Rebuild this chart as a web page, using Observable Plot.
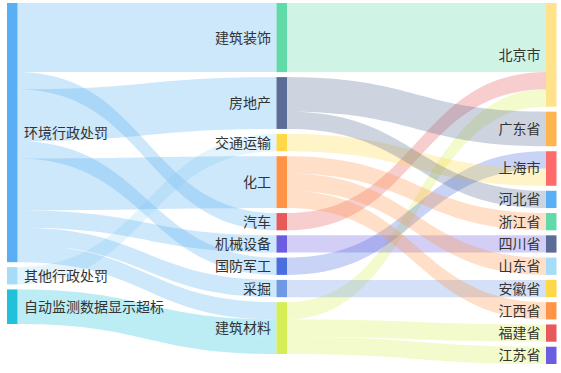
<!DOCTYPE html>
<html><head><meta charset="utf-8">
<script src="https://cdn.jsdelivr.net/npm/d3@7"></script>
<script src="https://cdn.jsdelivr.net/npm/@observablehq/plot@0.6"></script>
<style>body{margin:0;background:#fff}#chart{width:561px;height:373px;overflow:hidden}</style>
</head><body><div id="chart"></div>
<script>
// ---- data ----
const penaltyTypes = ["环境行政处罚", "其他行政处罚", "自动监测数据显示超标"];
const industries = ["建筑装饰", "房地产", "交通运输", "化工", "汽车", "机械设备", "国防军工", "采掘", "建筑材料"];
const provinces = ["北京市", "广东省", "上海市", "河北省", "浙江省", "四川省", "山东省", "安徽省", "江西省", "福建省", "江苏省"];
const nodeColors = {
  "环境行政处罚": "#5aaef3", "其他行政处罚": "#a6dcf7", "自动监测数据显示超标": "#20c1d9",
  "建筑装饰": "#60daa9", "房地产": "#5b6d96", "交通运输": "#ffd84a", "化工": "#ff9447",
  "汽车": "#e85a5a", "机械设备": "#6b5ce1", "国防军工": "#4a6ee0", "采掘": "#6d99e6", "建筑材料": "#d6ee55",
  "北京市": "#ffe28a", "广东省": "#ffb44d", "上海市": "#ff6b6b", "河北省": "#5aaef3", "浙江省": "#60daa9",
  "四川省": "#5b6d96", "山东省": "#a6dcf7", "安徽省": "#ffd84a", "江西省": "#ff9447", "福建省": "#e85a5a", "江苏省": "#6b5ce1"
};
// links in data (stacking) order: source, target, value
const penaltyLinks = [
  ["环境行政处罚", "建筑装饰", 4],
  ["环境行政处罚", "汽车", 1],
  ["环境行政处罚", "房地产", 3],
  ["环境行政处罚", "国防军工", 1],
  ["其他行政处罚", "交通运输", 1],
  ["环境行政处罚", "化工", 3],
  ["环境行政处罚", "机械设备", 1],
  ["环境行政处罚", "采掘", 1],
  ["环境行政处罚", "建筑材料", 1],
  ["自动监测数据显示超标", "建筑材料", 1], ["自动监测数据显示超标", "建筑材料", 1]
];
const industryLinks = [
  ["建筑装饰", "北京市", 1], ["建筑装饰", "北京市", 1], ["建筑装饰", "北京市", 1], ["建筑装饰", "北京市", 1],
  ["汽车", "北京市", 1], ["建筑材料", "北京市", 1],
  ["房地产", "广东省", 1], ["房地产", "广东省", 1],
  ["国防军工", "上海市", 1], ["交通运输", "上海市", 1],
  ["房地产", "河北省", 1], ["化工", "浙江省", 1], ["机械设备", "四川省", 1],
  ["化工", "山东省", 1], ["采掘", "安徽省", 1], ["化工", "江西省", 1],
  ["建筑材料", "福建省", 1], ["建筑材料", "江苏省", 1]
];

// ---- sankey layout (in value units) ----
const columns = [penaltyTypes, industries, provinces];
const links = [...penaltyLinks, ...industryLinks].map(([s, t, v], i) => ({id: i, s, t, v}));
const nodes = new Map();
columns.forEach((col, c) => col.forEach(name => nodes.set(name, {name, col: c, inV: 0, outV: 0, inOff: 0, outOff: 0})));
links.forEach(l => { nodes.get(l.s).outV += l.v; nodes.get(l.t).inV += l.v; });
nodes.forEach(n => n.value = Math.max(n.inV, n.outV));

const topPx = 3, bottomPx = 364, gapPx = 5;
const maxN = d3.max(columns, c => c.length);
const maxV = d3.max(columns, c => d3.sum(c, n => nodes.get(n).value));
const ky = (bottomPx - topPx - (maxN - 1) * gapPx) / maxV;
const gapU = gapPx / ky;
const yMax = (bottomPx - topPx) / ky;
columns.forEach(col => {
  let y = 0;
  col.forEach(name => { const n = nodes.get(name); n.y0 = y; n.y1 = y + n.value; y = n.y1 + gapU; });
});
const x0px = 7, x2px = 546, nodeWpx = 10.5;
const wU = nodeWpx / ((x2px - x0px) / 2);

const rows = [];
const N = 48;
links.forEach(l => {
  const S = nodes.get(l.s), T = nodes.get(l.t);
  const sy = S.y0 + S.outOff; S.outOff += l.v;
  const ty = T.y0 + T.inOff; T.inOff += l.v;
  const xa = S.col + wU, xb = T.col, xm = (xa + xb) / 2;
  for (let i = 0; i <= N; i++) {
    const t = i / N, u = 1 - t;
    const x = xa * u * u * u + 3 * xm * u * u * t + 3 * xm * u * t * t + xb * t * t * t;
    const s = 3 * t * t - 2 * t * t * t;
    const y1 = sy + (ty - sy) * s;
    rows.push({id: l.id, x, y1, y2: y1 + l.v, color: nodeColors[l.s]});
  }
});
const nodeList = [...nodes.values()];

const chart = Plot.plot({
  width: 561, height: 373, margin: 0,
  x: {domain: [0, 2], range: [x0px, x2px], axis: null},
  y: {domain: [0, yMax], range: [topPx, bottomPx], axis: null},
  color: {type: "identity"},
  style: {background: "#fff", fontFamily: "'Noto Sans CJK SC', 'Noto Sans', sans-serif"},
  marks: [
    Plot.areaY(rows, {x: "x", y1: "y1", y2: "y2", z: "id", fill: "color", fillOpacity: 0.3, curve: "linear"}),
    Plot.rect(nodeList, {x1: d => d.col, x2: d => d.col + wU, y1: "y0", y2: "y1", fill: d => nodeColors[d.name]}),
    Plot.text(nodeList.filter(d => d.col === 0), {x: d => d.col + wU, y: d => (d.y0 + d.y1) / 2, text: "name", textAnchor: "start", dx: 6, fontSize: 14, fill: "#333"}),
    Plot.text(nodeList.filter(d => d.col > 0), {x: d => d.col, y: d => (d.y0 + d.y1) / 2, text: "name", textAnchor: "end", dx: -6, fontSize: 14, fill: "#333"})
  ]
});
document.getElementById("chart").appendChild(chart);
</script></body></html>
